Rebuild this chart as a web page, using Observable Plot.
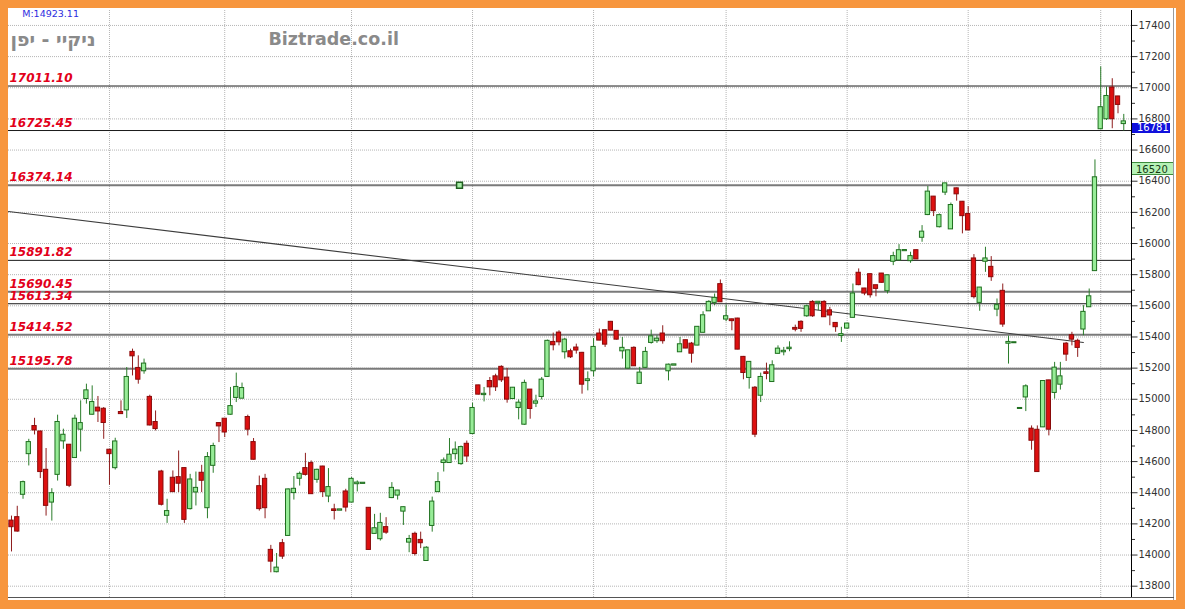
<!DOCTYPE html>
<html>
<head>
<meta charset="utf-8">
<script src="https://cdn.jsdelivr.net/npm/d3@7"></script>
<script src="https://cdn.jsdelivr.net/npm/@observablehq/plot@0.6"></script>
<style>
html,body{margin:0;padding:0;background:#fff;}
#wrap{position:relative;width:1185px;height:609px;overflow:hidden;background:#fff;}
#wrap svg{position:absolute;left:0;top:0;}
.ov{position:absolute;}
.tag{position:absolute;font-family:"DejaVu Sans",sans-serif;font-size:10px;box-sizing:border-box;overflow:hidden;white-space:nowrap;}
</style>
</head>
<body>
<div id="wrap"></div>
<script>
// ---- data ----
const opens = [
14218,14240,14390,14651,14825,14790,14544,14340,14518,14733,
14705,14626,14808,15005,14904,14943,14936,14673,14561,14915,
14932,15301,15198,15183,15012,14851,14533,14255,14493,14497,
14555,14298,14405,14525,14304,14576,14844,14872,14904,15012,
15007,14883,14722,14439,14486,14030,13893,14073,14126,14401,
14493,14555,14587,14486,14565,14379,14290,14288,14405,14340,
14458,14460,14300,14139,14105,14176,14369,14385,14282,14083,
14133,14094,13965,14190,14407,14594,14594,14651,14587,14711,
14780,15086,15030,15114,15144,15205,15136,15005,14947,14840,
15059,14975,15018,15147,15365,15425,15305,15305,15329,15295,
15120,15183,15419,15440,15494,15436,15311,15200,15327,15102,
15205,15365,15376,15419,15183,15219,15305,15376,15354,15348,
15430,15568,15622,15736,15515,15510,15515,15269,15140,15071,
15026,15170,15114,15295,15305,15325,15455,15494,15536,15622,
15620,15622,15568,15487,15410,15457,15526,15809,15708,15800,
15729,15804,15697,15886,15894,15954,15890,15954,16040,16186,
16298,16108,16330,16094,16351,16265,16186,15901,15622,15886,
15847,15579,15693,15360,15363,14941,15015,14808,14801,14823,
15118,15044,15097,15354,15408,15372,15451,15594,15826,16737,
16801,16998,16941,16770];
const highs = [
14250,14313,14475,14743,14878,14795,14684,14426,14898,14808,
14710,14898,14990,15097,15086,15018,14947,14678,14750,14990,
15204,15322,15279,15258,15026,14925,14544,14358,14540,14668,
14560,14518,14533,14576,14658,14718,14848,14876,15076,15168,
15104,14898,14748,14507,14518,14062,14010,14100,14425,14504,
14533,14653,14604,14551,14570,14555,14326,14291,14422,14497,
14476,14462,14305,14261,14268,14240,14465,14415,14308,14126,
14147,14147,14053,14372,14529,14623,14748,14726,14700,14732,
14975,15090,15076,15140,15161,15215,15198,15076,14996,15123,
15062,15026,15140,15380,15425,15440,15391,15322,15354,15301,
15176,15391,15451,15444,15500,15440,15397,15315,15337,15205,
15333,15444,15408,15472,15226,15221,15397,15380,15365,15466,
15562,15633,15676,15766,15605,15515,15520,15275,15241,15082,
15168,15232,15247,15343,15333,15369,15476,15504,15605,15633,
15626,15633,15590,15490,15462,15487,15740,15837,15712,15804,
15732,15808,15797,15944,15993,15956,15944,15958,16115,16366,
16302,16190,16387,16260,16356,16270,16237,15929,15718,15976,
15916,15644,15740,15406,15364,14942,15093,14829,14829,15118,
15122,15237,15237,15365,15430,15386,15601,15708,16537,17134,
17005,17058,16945,16829];
const lows = [
14020,14147,14358,14572,14771,14491,14250,14218,14475,14679,
14433,14620,14662,14969,14898,14851,14743,14448,14546,14905,
14877,15150,15097,15161,14829,14797,14315,14203,14405,14401,
14203,14289,14315,14401,14233,14525,14722,14754,14898,14979,
15005,14765,14610,14282,14233,13886,13886,13972,14120,14353,
14443,14507,14390,14461,14369,14336,14225,14287,14276,14336,
14405,14459,14030,14133,14090,14133,14362,14353,14190,14015,
13994,14041,13961,14147,14405,14533,14589,14610,14576,14594,
14776,15028,14983,15022,15050,15108,14975,15001,14868,14833,
14872,14947,14996,15140,15311,15343,15258,15262,15290,15033,
15054,15144,15376,15333,15440,15380,15258,15194,15211,15097,
15200,15354,15359,15354,15118,15218,15301,15325,15232,15344,
15425,15565,15601,15622,15498,15440,15318,15125,15065,14754,
14979,15125,15112,15290,15279,15305,15433,15430,15526,15526,
15568,15526,15472,15430,15365,15450,15522,15729,15665,15650,
15658,15745,15676,15858,15890,15953,15873,15899,16008,16179,
16173,16100,16308,16090,16272,16062,16083,15644,15565,15815,
15757,15530,15462,15226,15362,14940,14921,14673,14530,14818,
14765,15001,15059,15243,15343,15269,15408,15590,15822,16730,
16790,16737,16833,16722];
const closes = [
14182,14154,14465,14722,14803,14536,14319,14394,14851,14769,
14448,14872,14844,15054,14979,14925,14851,14651,14726,14908,
15140,15279,15129,15226,14835,14812,14326,14279,14407,14461,
14229,14482,14428,14480,14626,14697,14829,14790,14953,15076,
15069,14808,14615,14298,14304,13961,13916,13993,14418,14422,
14518,14518,14394,14544,14407,14433,14286,14290,14308,14486,
14462,14461,14036,14169,14203,14147,14428,14411,14304,14100,
14010,14079,14044,14340,14465,14604,14641,14674,14690,14636,
14941,15033,15032,15080,15080,15125,15001,15071,14975,15102,
14941,14983,15123,15372,15350,15369,15380,15273,15316,15097,
15125,15333,15380,15354,15444,15386,15327,15311,15215,15168,
15301,15401,15386,15376,15219,15221,15350,15329,15296,15462,
15536,15622,15648,15626,15530,15505,15322,15172,15237,14776,
15140,15166,15215,15322,15308,15328,15450,15455,15594,15536,
15623,15530,15541,15466,15415,15483,15676,15736,15682,15671,
15712,15751,15793,15916,15954,15955,15916,15901,16073,16330,
16211,16179,16383,16244,16319,16179,16087,15659,15714,15901,
15787,15601,15483,15365,15363,14941,15080,14737,14536,15114,
14808,15200,15144,15290,15386,15333,15558,15658,16422,16872,
16944,16801,16893,16781];

const yTicks = d3.range(13800, 17401, 200);
const yMinor = d3.range(13900, 17400, 200);
const monthIdx = [17, 37, 59, 80, 101, 124, 145, 166, 189];
const levelsThin = [17011.10, 16725.45, 15891.82, 15613.34];
const levelsThick = [16374.14, 15690.45, 15414.52, 15195.78];
const trendIdx = [-0.52, 186];
const trendVal = [16206, 15365];
const handleIdx = [77.74];
const handleVal = [16374.14];
const lastPrice = 16781;
const tagPrice = 16520;
const mValue = "M:14923.11";
const titleHe = "ניקיי - יפן";
const brand = "Biztrade.co.il";

// ---- tables built from the arrays ----
const candles = opens.map((o, i) => ({i, o, h: highs[i], l: lows[i], c: closes[i], up: closes[i] >= o}));
const trend = trendIdx.map((x, k) => ({x, y: trendVal[k]}));
const handle = handleIdx.map((x, k) => ({x, y: handleVal[k]}));
const xMax = 194.34;

const chart = Plot.plot({
  width: 1185, height: 609,
  marginLeft: 8, marginRight: 54, marginTop: 10, marginBottom: 11,
  x: {type: "linear", domain: [-0.52, xMax], axis: null},
  y: {type: "linear", domain: [13721, 17496]},
  style: {background: "transparent", fontFamily: "DejaVu Sans, sans-serif", overflow: "visible"},
  marks: [
    Plot.ruleY(yTicks, {stroke: "#b5b5b5", strokeDasharray: "1,1"}),
    Plot.ruleX(monthIdx, {stroke: "#b5b5b5", strokeDasharray: "1,1"}),
    Plot.ruleY(levelsThick, {stroke: "#7a7a7a", strokeWidth: 2}),
    Plot.ruleY(levelsThin, {stroke: "#1a1a1a", strokeWidth: 1}),
    Plot.line(trend, {x: "x", y: "y", stroke: "#3c3c3c", strokeWidth: 1.1}),
    Plot.ruleX(candles, {x: "i", y1: "l", y2: "h", stroke: d => d.up ? "#2b7d2b" : "#8e1c1c"}),
    Plot.rect(candles, {
      x1: d => d.i - 0.37, x2: d => d.i + 0.37, y1: "o", y2: "c",
      insetTop: -0.5, insetBottom: -0.5,
      fill: d => d.up ? "#97ec97" : "#dd1010",
      stroke: d => d.up ? "#1f6f1f" : "#8a0a0a", strokeWidth: 1
    }),
    Plot.dot(handle, {x: "x", y: "y", symbol: "square", r: 3.3, fill: "#a8eea8", stroke: "#1f5f1f"}),
    Plot.text([...levelsThin, ...levelsThick], {
      frameAnchor: "left", y: d => d, text: d => d.toFixed(2),
      textAnchor: "start", lineAnchor: "bottom", dx: 1, dy: -4,
      fill: "#e2001a", fontSize: 12, fontWeight: "bold", fontStyle: "italic"
    }),
    Plot.ruleX([xMax], {stroke: "#000"}),
    Plot.axisY({anchor: "right", ticks: yTicks, tickFormat: d3.format("d"), tickSize: 5.5, tickPadding: 1.5, fontSize: 10, color: "#333"}),
    Plot.axisY({anchor: "right", ticks: yMinor, tickFormat: () => "", tickSize: 3, color: "#333"}),
    Plot.text([brand], {frameAnchor: "top-left", text: d => d, dx: 260, dy: 34.3, lineAnchor: "bottom", textAnchor: "start", fontSize: 17.5, fontWeight: "bold", fill: "#8a8a8a"}),
    Plot.text([titleHe], {frameAnchor: "top-left", text: d => d, dx: 87, dy: 35, lineAnchor: "bottom", textAnchor: "end", fontSize: 19, fontWeight: "bold", fill: "#8a8a8a", fontFamily: "DejaVu Sans, sans-serif"}),
    Plot.text([mValue], {frameAnchor: "top-left", text: d => d, dx: 13.7, dy: 6.5, lineAnchor: "bottom", textAnchor: "start", fontSize: 9.5, fill: "#2d2de0"})
  ]
});

const wrap = document.getElementById("wrap");
wrap.appendChild(chart);
const yS = chart.scale("y");

function box(cls, css, text) {
  const d = document.createElement("div");
  d.className = cls;
  Object.assign(d.style, css);
  if (text) d.textContent = text;
  wrap.appendChild(d);
  return d;
}
// price tags on the right axis
box("tag", {left: "1132px", top: (yS.apply(lastPrice) + 1.5) + "px", width: "38px", height: "10px",
  background: "#1010dc", color: "#fff", lineHeight: "10px", paddingLeft: "5px"}, String(lastPrice));
box("tag", {left: "1132px", top: yS.apply(tagPrice) + "px", width: "41px", height: "13px",
  background: "#b6f2b6", color: "#143814", lineHeight: "14px", paddingLeft: "4px",
  borderTop: "1px solid #3c8c3c", borderBottom: "1px solid #3c8c3c"}, String(tagPrice));
// panel edges
box("ov", {left: "1173px", top: "8px", width: "1px", height: "592px", background: "#9a9a9a"});
box("ov", {left: "8px", top: "597px", width: "1166px", height: "1px", background: "#555"});
// orange frame
const orange = "#f7963e";
box("ov", {left: "0px", top: "0px", width: "1185px", height: "8px", background: orange});
box("ov", {left: "0px", top: "0px", width: "8px", height: "609px", background: orange});
box("ov", {left: "1176px", top: "0px", width: "9px", height: "609px", background: orange});
box("ov", {left: "0px", top: "600px", width: "1185px", height: "9px", background: orange});
</script>
</body>
</html>
